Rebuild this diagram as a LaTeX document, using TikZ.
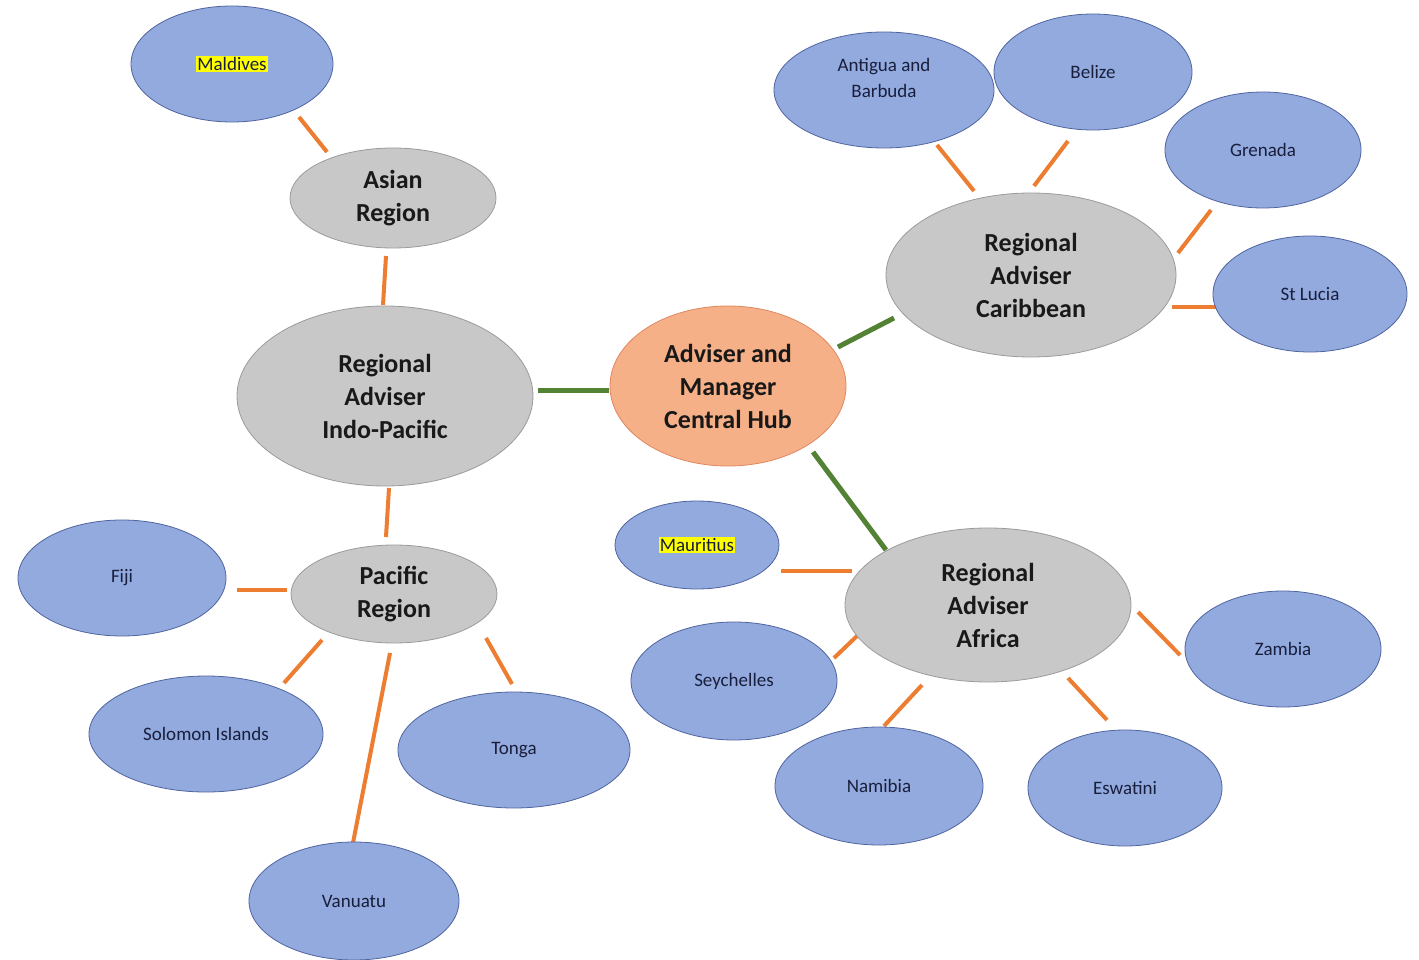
\documentclass[tikz,border=0pt]{standalone}
\usepackage{fontspec}
\setmainfont{Carlito}
\usetikzlibrary{shapes.geometric}
\definecolor{bluefill}{RGB}{146,170,222}
\definecolor{blueline}{RGB}{80,100,160}
\definecolor{grayfill}{RGB}{200,200,200}
\definecolor{grayline}{RGB}{155,155,155}
\definecolor{hubfill}{RGB}{246,176,136}
\definecolor{hubline}{RGB}{225,135,95}
\definecolor{orangeln}{RGB}{237,125,49}
\definecolor{greenln}{RGB}{84,130,53}
\definecolor{navytext}{RGB}{25,30,60}
\definecolor{hilite}{RGB}{255,255,0}
\tikzset{
  country/.style={ellipse, draw=blueline, line width=0.8pt, fill=bluefill, inner sep=0pt,
    text=navytext, font=\fontsize{19}{26}\selectfont, align=center},
  region/.style={ellipse, draw=grayline, line width=0.8pt, fill=grayfill, inner sep=0pt,
    text=black!90, font=\fontsize{26}{33}\selectfont\bfseries, align=center},
  hub/.style={ellipse, draw=hubline, line width=0.8pt, fill=hubfill, inner sep=0pt,
    text=black!90, font=\fontsize{26}{33}\selectfont\bfseries, align=center},
  oline/.style={draw=orangeln, line width=4pt},
  gline/.style={draw=greenln, line width=5pt},
}
\newcommand{\hl}[1]{{\setlength{\fboxsep}{1pt}\colorbox{hilite}{#1}}}
\begin{document}
\begin{tikzpicture}[x=1pt,y=-1pt]
\useasboundingbox[fill=white] (0,0) rectangle (1419,960);
% connector end points
\coordinate (a1) at (299,117); \coordinate (a2) at (327,152);
\coordinate (b1) at (386,256); \coordinate (b2) at (383,305);
\coordinate (c1) at (538,390); \coordinate (c2) at (609,390);
\coordinate (d1) at (838,347); \coordinate (d2) at (894,318);
\coordinate (e1) at (813,452); \coordinate (e2) at (886,550);
\coordinate (f1) at (389,488); \coordinate (f2) at (386,537);
\coordinate (g1) at (237,590); \coordinate (g2) at (287,590);
\coordinate (h1) at (322,640); \coordinate (h2) at (284,683);
\coordinate (i1) at (486,638); \coordinate (i2) at (512,684);
\coordinate (j1) at (390,653); \coordinate (j2) at (352,848);
\coordinate (k1) at (937,145); \coordinate (k2) at (974,191);
\coordinate (l1) at (1068,141); \coordinate (l2) at (1034,186);
\coordinate (m1) at (1211,210); \coordinate (m2) at (1178,253);
\coordinate (n1) at (1172,307); \coordinate (n2) at (1216,307);
\coordinate (o1) at (781,571); \coordinate (o2) at (852,571);
\coordinate (p1) at (834,658); \coordinate (p2) at (857,636);
\coordinate (q1) at (922,685); \coordinate (q2) at (884,726);
\coordinate (r1) at (1068,678); \coordinate (r2) at (1107,720);
\coordinate (s1) at (1138,612); \coordinate (s2) at (1180,655);
% connectors
\draw[oline] (a1) -- (a2);
\draw[oline] (b1) -- (b2);
\draw[gline] (c1) -- (c2);
\draw[gline] (d1) -- (d2);
\draw[gline] (e1) -- (e2);
\draw[oline] (f1) -- (f2);
\draw[oline] (g1) -- (g2);
\draw[oline] (h1) -- (h2);
\draw[oline] (i1) -- (i2);
\draw[oline] (j1) -- (j2);
\draw[oline] (k1) -- (k2);
\draw[oline] (l1) -- (l2);
\draw[oline] (m1) -- (m2);
\draw[oline] (n1) -- (n2);
\draw[oline] (o1) -- (o2);
\draw[oline] (p1) -- (p2);
\draw[oline] (q1) -- (q2);
\draw[oline] (r1) -- (r2);
\draw[oline] (s1) -- (s2);
% nodes
\node[country, minimum width=202pt, minimum height=116pt] (maldives) at (232,64) {\hl{Maldives}};
\node[region, minimum width=206pt, minimum height=100pt] (asian) at (393,198) {Asian\\Region};
\node[region, minimum width=296pt, minimum height=180pt] (indopac) at (385,396) {Regional\\Adviser\\Indo-Pacific};
\node[region, minimum width=206pt, minimum height=98pt] (pacific) at (394,594) {Pacific\\Region};
\node[country, minimum width=208pt, minimum height=116pt] (fiji) at (122,578) {Fiji};
\node[country, minimum width=234pt, minimum height=116pt] (solomon) at (206,734) {Solomon Islands};
\node[country, minimum width=232pt, minimum height=116pt] (tonga) at (514,750) {Tonga};
\node[country, minimum width=210pt, minimum height=118pt] (vanuatu) at (354,901) {Vanuatu};
\node[hub, minimum width=236pt, minimum height=160pt] (hubnode) at (728,386) {Adviser and\\Manager\\Central Hub};
\node[region, minimum width=290pt, minimum height=164pt] (carib) at (1031,275) {Regional\\Adviser\\Caribbean};
\node[country, minimum width=220pt, minimum height=116pt] (antigua) at (884,90) {};
\node[font=\fontsize{19}{26}\selectfont, text=navytext, align=center] (antiguatext) at (884,78) {Antigua and\\Barbuda};
\node[country, minimum width=198pt, minimum height=116pt] (belize) at (1093,72) {Belize};
\node[country, minimum width=196pt, minimum height=116pt] (grenada) at (1263,150) {Grenada};
\node[country, minimum width=194pt, minimum height=116pt] (stlucia) at (1310,294) {St Lucia};
\node[country, minimum width=164pt, minimum height=88pt] (mauritius) at (697,545) {\hl{Mauritius}};
\node[region, minimum width=286pt, minimum height=154pt] (africa) at (988,605) {Regional\\Adviser\\Africa};
\node[country, minimum width=206pt, minimum height=118pt] (seychelles) at (734,681) {Seychelles};
\node[country, minimum width=208pt, minimum height=118pt] (namibia) at (879,786) {Namibia};
\node[country, minimum width=194pt, minimum height=116pt] (eswatini) at (1125,788) {Eswatini};
\node[country, minimum width=196pt, minimum height=116pt] (zambia) at (1283,649) {Zambia};
\end{tikzpicture}
\end{document}
